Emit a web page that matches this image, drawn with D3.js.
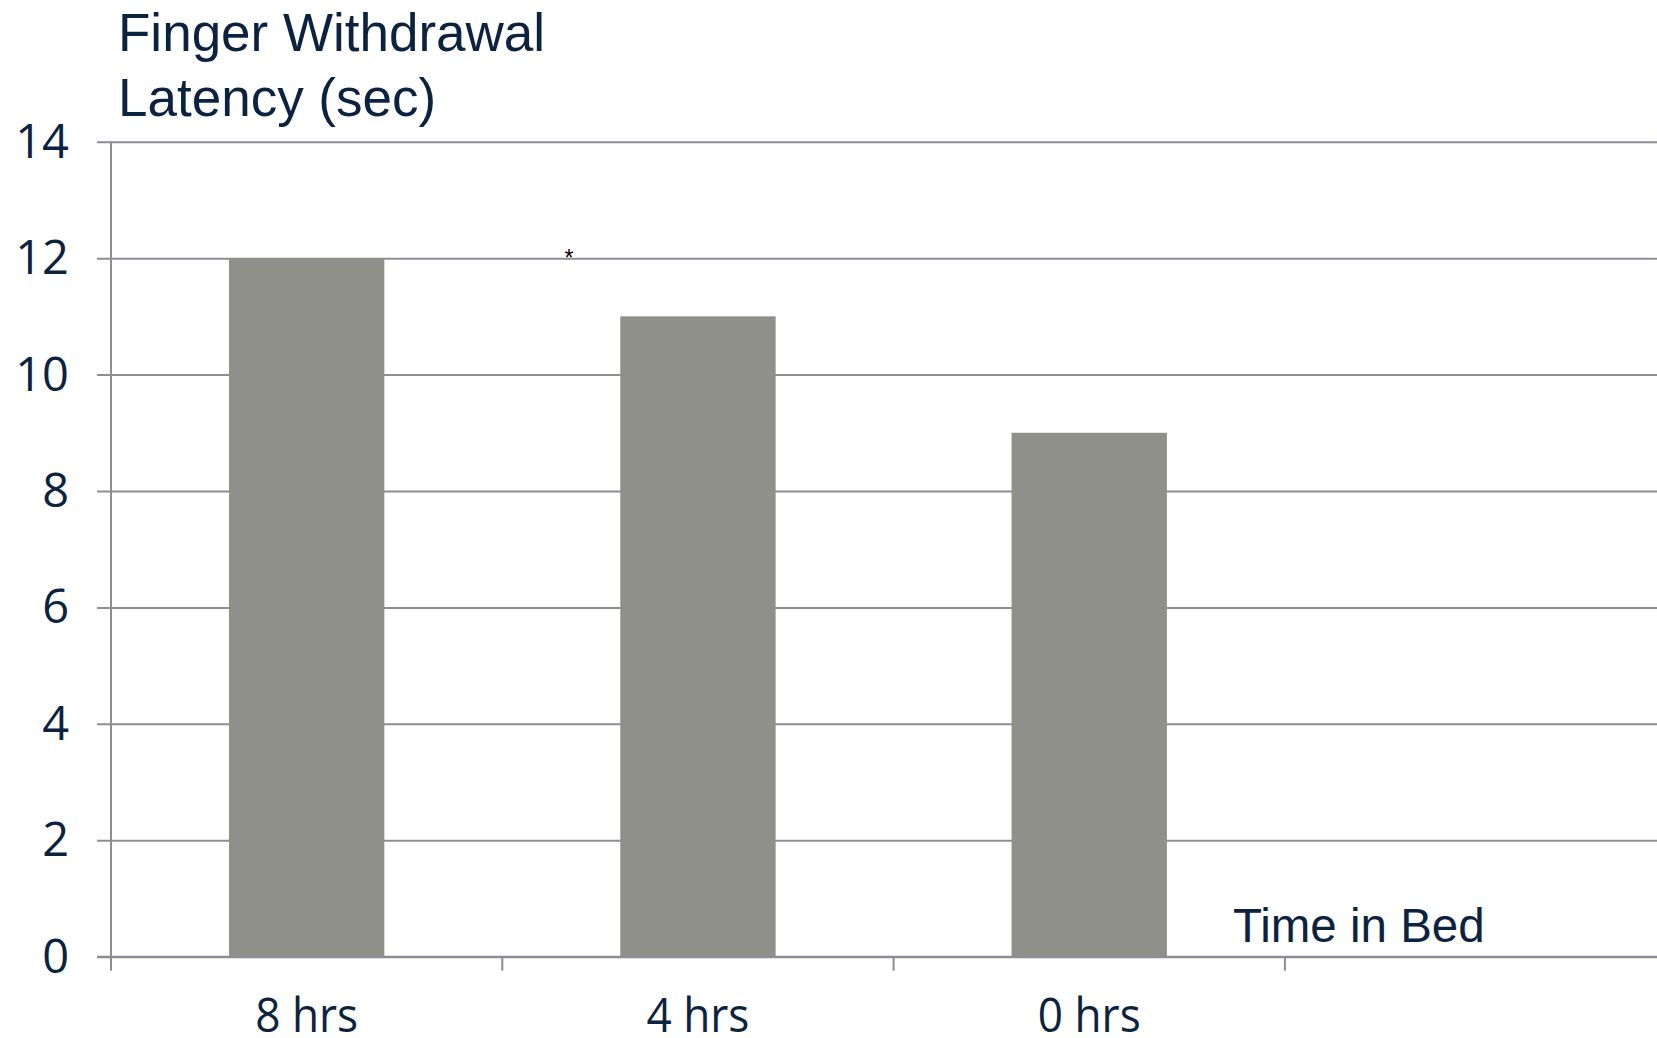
<!DOCTYPE html>
<html>
<head>
<meta charset="utf-8">
<script src="https://cdn.jsdelivr.net/npm/d3@7"></script>
<style>
  html, body { margin: 0; padding: 0; background: #ffffff; overflow: hidden; }
  svg { display: block; }
</style>
</head>
<body>
<svg id="chart" width="1657" height="1038"></svg>
<script>
// Finger withdrawal latency by time in bed
const categories = ["8 hrs", "4 hrs", "0 hrs", ""];
const latency = [12, 11, 9];
const yTicks = [0, 2, 4, 6, 8, 10, 12, 14];
const titleLines = ["Finger Withdrawal", "Latency (sec)"];
const xTitle = "Time in Bed";

(function drawChart() {
  const W = 1657;
  const plotLeft = 111, plotTop = 141.7, plotBottom = 956.7;
  const step = 391.3;
  const ink = "#0c2340", gridCol = "#8c8e94", barCol = "#8f908a";

  const svg = d3.select("#chart");

  const x = d3.scaleBand()
    .domain(categories)
    .range([plotLeft, plotLeft + step * categories.length])
    .padding(0);

  const y = d3.scaleLinear().domain([0, 14]).range([plotBottom, plotTop]);

  const barW = x.bandwidth() * 0.397;

  // horizontal gridlines with short outer ticks on the left
  const yAxis = d3.axisLeft(y)
    .tickValues(yTicks)
    .tickSize(-(W - plotLeft))
    .tickSizeOuter(0)
    .tickFormat(d3.format("d"));

  const gy = svg.append("g")
    .attr("transform", `translate(${plotLeft},0)`)
    .call(yAxis);
  gy.select(".domain").remove();
  gy.selectAll(".tick line")
    .attr("x1", -14)
    .attr("stroke", gridCol)
    .attr("stroke-width", 2);
  gy.selectAll(".tick text")
    .attr("x", -42)
    .attr("dy", null)
    .attr("y", 15.5)
    .attr("text-anchor", "end")
    .attr("fill", ink)
    .style("font-family", "'Open Sans', 'Noto Sans', sans-serif")
    .style("font-size", "47px");

  // bars
  svg.append("g")
    .selectAll("rect")
    .data(latency)
    .join("rect")
    .attr("x", (d, i) => x(categories[i]) + (x.bandwidth() - barW) / 2)
    .attr("width", barW)
    .attr("y", d => y(d))
    .attr("height", d => y(0) - y(d))
    .attr("fill", barCol);

  // vertical axis line
  svg.append("line")
    .attr("x1", plotLeft).attr("x2", plotLeft)
    .attr("y1", y(14)).attr("y2", y(0) + 14)
    .attr("stroke", gridCol).attr("stroke-width", 2);

  // category axis: baseline, boundary ticks, labels
  const gx = svg.append("g");
  gx.append("line")
    .attr("x1", plotLeft - 14).attr("x2", W)
    .attr("y1", y(0)).attr("y2", y(0))
    .attr("stroke", gridCol).attr("stroke-width", 2);
  gx.selectAll("line.bound")
    .data(categories.slice(1))
    .join("line")
    .attr("class", "bound")
    .attr("x1", d => x(d)).attr("x2", d => x(d))
    .attr("y1", y(0)).attr("y2", y(0) + 14)
    .attr("stroke", gridCol).attr("stroke-width", 2);
  gx.selectAll("text.cat")
    .data(categories.filter(c => c !== ""))
    .join("text")
    .attr("class", "cat")
    .attr("transform", d => `translate(${x(d) + x.bandwidth() / 2},1032) scale(0.92,1)`)
    .attr("text-anchor", "middle")
    .attr("fill", ink)
    .style("font-family", "'Open Sans', 'Noto Sans', sans-serif")
    .style("font-size", "48px")
    .text(d => d);

  // significance marker
  svg.append("text")
    .attr("x", 569)
    .attr("y", 266)
    .attr("text-anchor", "middle")
    .attr("fill", "#000000")
    .style("font-family", "'Liberation Sans', Arial, sans-serif")
    .style("font-size", "23px")
    .text("*");

  // y-axis title
  svg.append("g")
    .selectAll("text")
    .data(titleLines)
    .join("text")
    .attr("x", 118)
    .attr("y", (d, i) => 51 + i * 64.5)
    .attr("fill", ink)
    .style("font-family", "'Liberation Sans', Arial, sans-serif")
    .style("font-size", "53px")
    .text(d => d);

  // x-axis title
  svg.append("text")
    .attr("x", 1233)
    .attr("y", 941.7)
    .attr("fill", ink)
    .style("font-family", "'Liberation Sans', Arial, sans-serif")
    .style("font-size", "47.5px")
    .text(xTitle);
})();
</script>
</body>
</html>
